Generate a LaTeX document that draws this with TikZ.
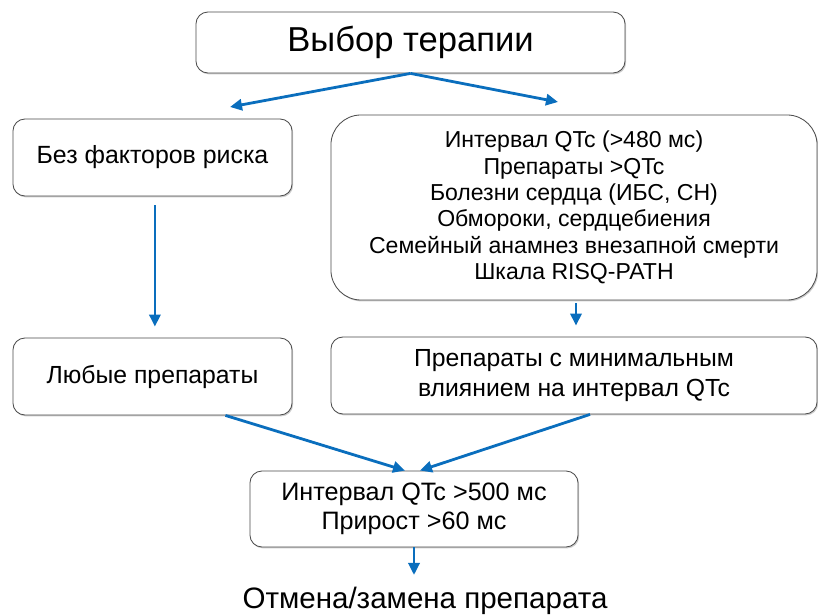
\documentclass[tikz,border=0pt]{standalone}
\usepackage{fontspec}
\setmainfont{Liberation Sans}
\usetikzlibrary{arrows.meta,shadows}
\definecolor{flowblue}{HTML}{0A6EBD}
\tikzset{
  box/.style={draw=black!70,line width=0.6pt,rounded corners=0.3cm,fill=white,align=center,inner sep=0pt,
    drop shadow={shadow xshift=0.8pt,shadow yshift=-1pt,opacity=0.4}},
  flow/.style={->,>={Triangle[length=0.3cm,width=0.28cm]},line width=0.07cm,draw=flowblue},
}
\begin{document}
\begin{tikzpicture}[x=0.025cm,y=-0.025cm]
  \useasboundingbox (0,0) rectangle (818,615);
  \node[box,minimum width=10.725cm,minimum height=1.525cm,font=\fontsize{24.6}{28}\selectfont] (title) at (410.5,42.5) {Выбор терапии};
  \node[box,minimum width=6.975cm,minimum height=1.925cm,font=\fontsize{17.7}{20}\selectfont] (norisk) at (152.5,157.5) {Без факторов риска};
  \node[box,rounded corners=0.75cm,minimum width=12.15cm,minimum height=4.625cm,font=\fontsize{16.4}{18.7}\selectfont] (risk) at (574,207.5)
    {Интервал QTc (>480 мс)\\Препараты >QTc\\Болезни сердца (ИБС, СН)\\Обмороки, сердцебиения\\Семейный анамнез внезапной смерти\\Шкала RISQ-PATH};
  \node[box,minimum width=6.975cm,minimum height=1.925cm,font=\fontsize{17.6}{20}\selectfont] (anydrug) at (152.5,376.5) {Любые препараты};
  \node[box,minimum width=12.15cm,minimum height=1.925cm,font=\fontsize{17.6}{21}\selectfont] (mindrug) at (574,375.5) {Препараты с минимальным\\влиянием на интервал QTc};
  \node[box,minimum width=8.2cm,minimum height=1.9cm,font=\fontsize{17.9}{20.5}\selectfont] (final) at (414,509) {Интервал QTc >500 мс\\Прирост >60 мс};
  \node[font=\fontsize{21}{25}\selectfont,inner sep=0pt] (cancel) at (425,601) {Отмена/замена препарата};
  % концы стрелок
  \coordinate (toleft) at (230,107);
  \coordinate (toright) at (558,102);
  \coordinate (fromany) at ([xshift=-1.675cm]anydrug.south east);
  \coordinate (frommin) at ([xshift=0.4cm]mindrug.south);
  \draw[flow] (title.south) -- (toleft);
  \draw[flow] (title.south) -- (toright);
  \draw[flow,shorten <=0.225cm,shorten >=0.275cm] ([xshift=0.06cm]norisk.south) -- ([xshift=0.06cm]anydrug.north);
  \draw[flow,shorten <=0.075cm,shorten >=0.275cm] ([xshift=0.05cm]risk.south) -- ([xshift=0.05cm]mindrug.north);
  \draw[flow] (fromany) -- ([xshift=-0.225cm]final.north);
  \draw[flow] (frommin) -- ([xshift=0.15cm]final.north);
  \draw[flow,shorten >=0.3cm] (final.south) -- (final.south |- cancel.north);
\end{tikzpicture}
\end{document}
